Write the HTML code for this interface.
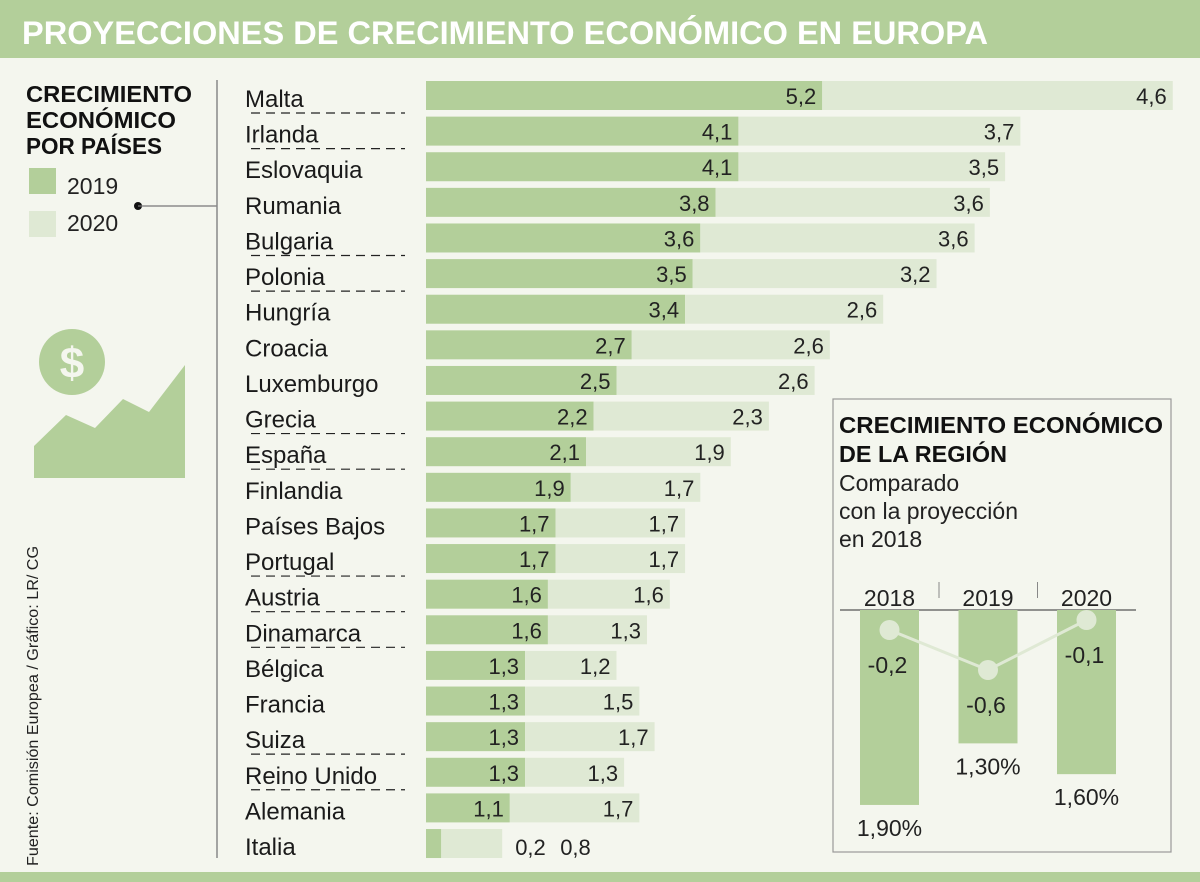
<!DOCTYPE html>
<html><head><meta charset="utf-8"><style>
html,body{margin:0;padding:0;background:#f4f6ee;}
svg{display:block;font-family:"Liberation Sans",sans-serif;}
</style></head><body>
<svg id="chart" width="1200" height="882" viewBox="0 0 1200 882">
<rect x="0" y="0" width="1200" height="882" fill="#f4f6ee"/>
<rect x="0" y="0" width="1200" height="58" fill="#b3cf9a"/>
<text x="22" y="44" font-size="32" font-weight="bold" fill="#fff" textLength="966" lengthAdjust="spacingAndGlyphs">PROYECCIONES DE CRECIMIENTO ECONÓMICO EN EUROPA</text>
<rect x="0" y="872" width="1200" height="10" fill="#b3cf9a"/>

<g>
<text font-size="23" font-weight="bold" fill="#111"><tspan x="26" y="102" textLength="166" lengthAdjust="spacingAndGlyphs">CRECIMIENTO</tspan><tspan x="26" y="128" textLength="150" lengthAdjust="spacingAndGlyphs">ECONÓMICO</tspan><tspan x="26" y="154" textLength="136" lengthAdjust="spacingAndGlyphs">POR PAÍSES</tspan></text>
<rect x="29" y="168" width="27" height="26" fill="#b3cf9a"/>
<text x="67" y="194" font-size="23" fill="#222">2019</text>
<rect x="29" y="211" width="27" height="26" fill="#dfe9d4"/>
<text x="67" y="231" font-size="23" fill="#222">2020</text>
<circle cx="138" cy="206" r="4" fill="#111"/>
<line x1="138" y1="206" x2="217" y2="206" stroke="#777" stroke-width="1.2"/>
</g>
<line x1="217" y1="80" x2="217" y2="858" stroke="#888" stroke-width="1.5"/>

<g>
<circle cx="72" cy="362" r="33" fill="#b3cf9a"/>
<text x="72" y="378" font-size="44" font-weight="bold" fill="#f4f6ee" text-anchor="middle">$</text>
<polygon points="34,478 34,446 66,415 95,428 123,399 149,412 185,365 185,478" fill="#b3cf9a"/>
</g>
<text transform="translate(38,866) rotate(-90)" font-size="16" fill="#222" textLength="320" lengthAdjust="spacingAndGlyphs">Fuente: Comisión Europea / Gráfico: LR/ CG</text>

<g id="bars"></g>

<g>
<rect x="833" y="399" width="338" height="453" fill="none" stroke="#999" stroke-width="1.2"/>
<text font-size="23" font-weight="bold" fill="#111"><tspan x="839" y="433" textLength="324" lengthAdjust="spacingAndGlyphs">CRECIMIENTO ECONÓMICO</tspan><tspan x="839" y="462" textLength="168" lengthAdjust="spacingAndGlyphs">DE LA REGIÓN</tspan></text>
<text font-size="23" fill="#222"><tspan x="839" y="491">Comparado</tspan><tspan x="839" y="519">con la proyección</tspan><tspan x="839" y="547">en 2018</tspan></text>
<g id="region"></g>
</g>
</svg>
<script>
const countries = ["Malta","Irlanda","Eslovaquia","Rumania","Bulgaria","Polonia","Hungría","Croacia","Luxemburgo","Grecia","España","Finlandia","Países Bajos","Portugal","Austria","Dinamarca","Bélgica","Francia","Suiza","Reino Unido","Alemania","Italia"];
const values2019 = [5.2,4.1,4.1,3.8,3.6,3.5,3.4,2.7,2.5,2.2,2.1,1.9,1.7,1.7,1.6,1.6,1.3,1.3,1.3,1.3,1.1,0.2];
const values2020 = [4.6,3.7,3.5,3.6,3.6,3.2,2.6,2.6,2.6,2.3,1.9,1.7,1.7,1.7,1.6,1.3,1.2,1.5,1.7,1.3,1.7,0.8];
const dashedRows = ["Malta","Irlanda","Bulgaria","Polonia","Grecia","España","Portugal","Austria","Dinamarca","Suiza","Reino Unido"];
const regionYears = ["2018","2019","2020"];
const regionGrowth = [1.9,1.3,1.6];
const regionChange = [-0.2,-0.6,-0.1];

const NS="http://www.w3.org/2000/svg";
function mk(tag,attrs,parent,txt){const e=document.createElementNS(NS,tag);for(const k in attrs)e.setAttribute(k,attrs[k]);if(txt!==undefined)e.textContent=txt;parent.appendChild(e);return e;}
const fmt=v=>v.toFixed(1).replace('.',',');
const x0=426, unit=76.2;
const xS=v=>x0+v*unit;
const yS=i=>81+i*35.62;
const barH=29;
const g=document.getElementById('bars');
countries.forEach((c,i)=>{
  const y=yS(i), a=values2019[i], b=values2020[i];
  const lab=mk('text',{x:245,y:y+26,'font-size':24,fill:'#1a1a1a'},g,c);
  
  
  if(dashedRows.includes(c)){
    const d=mk('line',{x1:251,x2:405,y1:y+32,y2:y+32,stroke:'#222','stroke-width':1.2,'stroke-dasharray':'9,6'},g);
    
    
  }
  const r1=mk('rect',{x:x0,y:y,width:xS(a)-x0,height:barH,fill:'#b3cf9a'},g);
  
  
  const r2=mk('rect',{x:xS(a),y:y,width:xS(a+b)-xS(a),height:barH,fill:'#dfe9d4'},g);
  
  
  const inside=(xS(a)-x0)>45;
  let t1,t2;
  if(inside){
    t1=mk('text',{x:xS(a)-6,y:y+23,'font-size':22,fill:'#222','text-anchor':'end'},g,fmt(a));
    t2=mk('text',{x:xS(a+b)-6,y:y+23,'font-size':22,fill:'#222','text-anchor':'end'},g,fmt(b));
  } else {
    t1=mk('text',{x:xS(a+b)+13,y:y+26,'font-size':22,fill:'#222'},g,fmt(a));
    t2=mk('text',{x:xS(a+b)+58,y:y+26,'font-size':22,fill:'#222'},g,fmt(b));
  }
  
  
  
  
});

const rg=document.getElementById('region');
const base=610, gUnit=102.6, cUnit=100;
const cx=i=>889.5+i*98.5;
const bl=mk('line',{x1:840,x2:1136,y1:base,y2:base,stroke:'#555','stroke-width':1.2},rg);


regionYears.forEach((yr,i)=>{
  const b=mk('rect',{x:cx(i)-29.5,y:base,width:59,height:regionGrowth[i]*gUnit,fill:'#b3cf9a'},rg);
  
  
  const t=mk('text',{x:cx(i),y:base-4,'font-size':23,fill:'#222','text-anchor':'middle'},rg,yr);
  
  
  if(i>0){
    const s=mk('line',{x1:cx(i)-49,x2:cx(i)-49,y1:base-28,y2:base-12,stroke:'#888','stroke-width':1},rg);
    
    
  }
  const v=mk('text',{x:cx(i),y:base+regionGrowth[i]*gUnit+31,'font-size':23,fill:'#222','text-anchor':'middle'},rg,regionGrowth[i].toFixed(2).replace('.',',')+'%');
  
  
});
const pts=regionChange.map((c,i)=>[cx(i),base-c*cUnit]);
const pl=mk('polyline',{points:pts.map(p=>p.join(',')).join(' '),fill:'none',stroke:'#dfe9d4','stroke-width':3},rg);


pts.forEach((p,i)=>{
  const c=mk('circle',{cx:p[0],cy:p[1],r:10,fill:'#dfe9d4'},rg);
  
  
  const t=mk('text',{x:p[0]-2,y:p[1]+43,'font-size':23,fill:'#222','text-anchor':'middle'},rg,fmt(regionChange[i]));
  
  
});
</script>
</body></html>
